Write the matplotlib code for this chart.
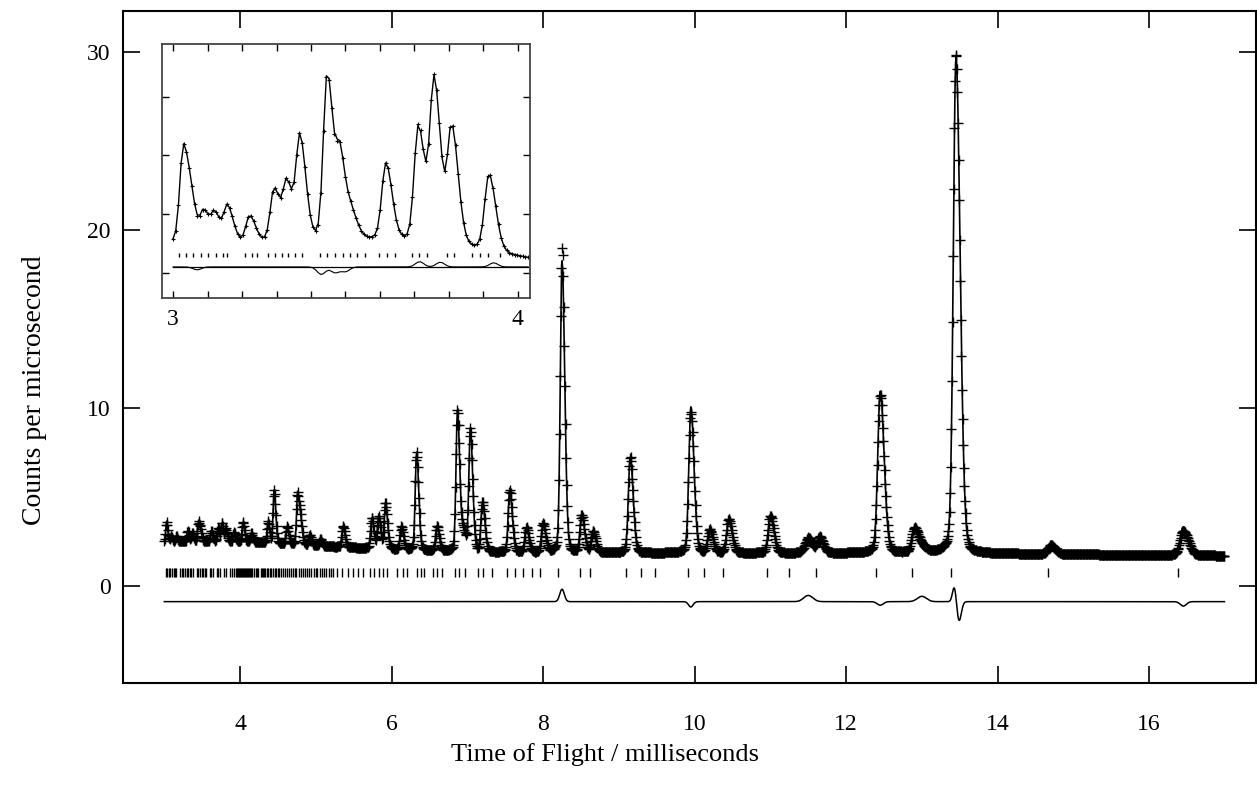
import numpy as np
from matplotlib import pyplot as plt

plt.rcParams['font.family'] = ['Liberation Serif', 'DejaVu Serif']

# ---------------- main pattern (counts per microsecond vs TOF / ms) ----------------
bg_tof = [3.0, 4.0, 5.0, 6.0, 7.0, 8.0, 10.0, 13.0, 17.0]
bg_counts = [2.5, 2.5, 2.25, 2.05, 1.9, 1.85, 1.85, 1.85, 1.7]

peak_tof = [3.03, 3.09, 3.16, 3.31, 3.37, 3.45, 3.48, 3.62, 3.71, 3.76, 3.81, 3.92,
            4.04, 4.15, 4.37, 4.45, 4.62, 4.76, 4.80, 4.92, 5.06, 5.36, 5.74, 5.83,
            5.92, 6.13, 6.33, 6.60, 6.87, 6.95, 7.04, 7.20, 7.56, 7.78, 8.00, 8.25,
            8.51, 8.66, 9.15, 9.95, 10.2, 10.45, 11.0, 11.5, 11.65, 12.45, 12.9,
            13.45, 14.7, 16.45]
peak_height = [1.1, 0.3, 0.3, 0.6, 0.5, 1.1, 0.5, 0.6, 0.7, 1.0, 0.7, 0.5,
               1.1, 0.5, 1.2, 3.0, 1.0, 2.9, 1.2, 0.6, 0.4, 1.2, 1.7, 1.8,
               2.6, 1.3, 5.5, 1.4, 7.9, 1.0, 6.9, 2.8, 3.5, 1.4, 1.6, 16.4,
               2.1, 1.2, 5.4, 8.2, 1.3, 1.9, 2.1, 0.5, 0.9, 9.1, 1.3,
               27.9, 0.5, 1.6]

# difference curve (obs - calc), drawn offset below zero
diff_offset = -0.88
diff_tof = [8.25, 9.95, 11.5, 12.45, 13.0, 13.43, 13.49, 16.45]
diff_amp = [0.7, -0.3, 0.35, -0.2, 0.3, 0.9, -1.1, -0.25]
diff_width = [0.03, 0.03, 0.06, 0.04, 0.06, 0.025, 0.03, 0.04]

refl_tof = [3.016, 3.037, 3.059, 3.080, 3.102, 3.124, 3.146, 3.157, 3.209, 3.228,
            3.242, 3.276, 3.296, 3.315, 3.334, 3.354, 3.373, 3.426, 3.447, 3.469,
            3.492, 3.513, 3.534, 3.556, 3.598, 3.619, 3.643, 3.692, 3.714, 3.737,
            3.793, 3.814, 3.866, 3.890, 3.914, 3.948,
            3.96, 3.97, 3.985, 3.995, 4.01, 4.02, 4.035, 4.05, 4.06, 4.075, 4.09,
            4.10, 4.115, 4.13, 4.145, 4.16, 4.19, 4.205, 4.22, 4.235, 4.27, 4.285,
            4.30, 4.315, 4.33, 4.36, 4.375, 4.39, 4.405, 4.44, 4.455, 4.47, 4.50,
            4.52, 4.545, 4.57, 4.59, 4.62, 4.645, 4.67, 4.70, 4.72, 4.745, 4.78,
            4.80, 4.83, 4.86, 4.885, 4.91, 4.94, 4.97, 5.00, 5.02, 5.05, 5.08,
            5.11, 5.14, 5.17, 5.20, 5.23,
            5.276, 5.342, 5.430, 5.496, 5.562, 5.628, 5.716, 5.769, 5.840, 5.892,
            5.945, 6.069, 6.157, 6.200, 6.332, 6.385, 6.429, 6.552, 6.605, 6.663,
            6.839, 6.896, 6.971, 7.147, 7.213, 7.323, 7.521, 7.631, 7.741, 7.851,
            7.961, 8.203, 8.489, 8.62, 9.09, 9.29, 9.48, 9.91, 10.13, 10.38,
            10.95, 11.25, 11.60, 12.40, 12.87, 13.39, 14.67, 16.38]

# ---------------- inset (3 - 4 ms, arbitrary units) ----------------
in_bg_tof = [3.0, 3.2, 3.4, 3.6, 3.9, 4.03]
in_bg = [0.5, 0.5, 0.5, 0.55, 0.38, 0.25]
in_peak_tof = [3.030, 3.055, 3.090, 3.122, 3.158, 3.222, 3.293, 3.330, 3.368, 3.447,
               3.485, 3.520, 3.617, 3.711, 3.757, 3.808, 3.916]
in_peak_height = [1.65, 0.45, 0.5, 0.45, 0.6, 0.45, 0.9, 0.95, 1.75, 2.85,
                  1.35, 0.35, 1.3, 1.95, 2.75, 2.0, 1.3]
in_diff_level = 0.1
in_diff_tof = [3.07, 3.43, 3.47, 3.50, 3.715, 3.775, 3.93]
in_diff_amp = [-0.05, -0.13, -0.10, -0.08, 0.09, 0.08, 0.07]
in_refl_tof = refl_tof[:36]

sigma0, sigma1 = 0.003, 0.0023   # peak width = sigma0 + sigma1 * t
tail = 1.6
tof = np.arange(3.0, 17.0, 0.0078)


def pattern(t, pos, height, bgx, bgy):
    y = np.interp(t, bgx, bgy)
    for p, h in zip(pos, height):
        s = sigma0 + sigma1 * p
        d = t - p
        g = np.where(d < 0, np.exp(-0.5 * (d / s) ** 2), np.exp(-0.5 * (d / (tail * s)) ** 2))
        lor = 1.0 / (1.0 + (d / (2.0 * s)) ** 2)
        y = y + h * (0.9 * g + 0.1 * lor)
    return y


def bumps(t, pos, amp, width):
    y = np.zeros_like(t)
    for p, a, w in zip(pos, amp, width):
        y = y + a * np.exp(-0.5 * ((t - p) / w) ** 2)
    return y


calc = pattern(tof, peak_tof, peak_height, bg_tof, bg_counts)
diff = bumps(tof, diff_tof, diff_amp, diff_width)
obs = calc + diff

fig = plt.figure(figsize=(12.57, 7.92), dpi=100)
ax = fig.add_axes([123 / 1257, 1 - 683 / 792, 1133 / 1257, 672 / 792])

ax.plot(tof, obs, ls='none', marker='+', ms=7, mew=1.0, color='black')
ax.plot(tof, calc, color='black', lw=1.2)
ax.vlines(refl_tof, 0.5, 1.0, color='black', lw=1.0)
ax.plot(tof, diff_offset + diff, color='black', lw=1.1)

ax.set_xlim(2.455, 17.41)
ax.set_ylim(-5.45, 32.3)
ax.set_xticks([4, 6, 8, 10, 12, 14, 16])
ax.set_yticks([0, 10, 20, 30])
ax.tick_params(direction='in', length=12, width=1.2, top=True, right=True,
               labelsize=17)
ax.tick_params(axis='x', pad=22)
ax.tick_params(axis='y', pad=9)
for sp in ax.spines.values():
    sp.set_linewidth(1.5)

fig.text(35 / 1257, 1 - 390 / 792, 'Counts per microsecond', rotation=90,
         ha='center', va='center', fontsize=20)
fig.text(605 / 1257, 1 - 755 / 792, 'Time of Flight / milliseconds',
         ha='center', va='center', fontsize=19)

# inset
ins = fig.add_axes([162 / 1257, 1 - 298 / 792, 368 / 1257, 254 / 792])
t_in = tof[tof <= 4.03]
in_calc = pattern(t_in, in_peak_tof, in_peak_height, in_bg_tof, in_bg)
in_diff = bumps(t_in, in_diff_tof, in_diff_amp, [0.012] * len(in_diff_tof))
ins.plot(t_in, in_calc + in_diff * 0.3, ls='none', marker='+', ms=3.5, mew=0.8, color='black')
ins.plot(t_in, in_calc, color='black', lw=1.0)
ins.vlines(in_refl_tof, 0.27, 0.335, color='black', lw=1.0)
ins.plot([3.0, 4.03], [in_diff_level, in_diff_level], color='black', lw=0.9)
ins.plot(t_in, in_diff_level + in_diff, color='black', lw=0.8)

ins.set_xlim(2.968, 4.035)
ins.set_ylim(-0.43, 3.9)
ins.set_xticks(np.arange(3.0, 4.05, 0.1))
ins.set_xticklabels(['3'] + [''] * 9 + ['4'])
ins.set_yticks([0, 1, 2, 3])
ins.set_yticklabels([])
ins.tick_params(direction='in', length=5, width=1.0, top=True, right=True,
                labelsize=17, pad=8)
for sp in ins.spines.values():
    sp.set_linewidth(1.3)
    sp.set_color('#444444')

fig.savefig('out.png', dpi=100)
